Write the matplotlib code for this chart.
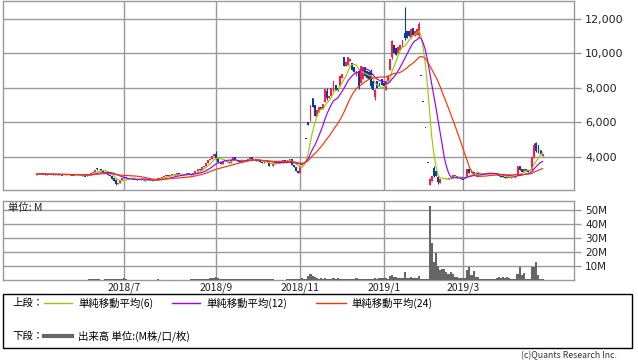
import numpy as np
import pandas as pd
import matplotlib
matplotlib.use("Agg")
import matplotlib.pyplot as plt
from matplotlib.patches import Rectangle
from matplotlib.lines import Line2D

plt.rcParams['font.family'] = ['Noto Sans CJK JP', 'DejaVu Sans']

# ---------------- data (daily) ----------------
JP_HOLIDAYS = ['2018-05-03', '2018-05-04', '2018-07-16', '2018-09-17', '2018-09-24',
               '2018-10-08', '2018-11-23', '2018-12-24', '2018-12-31', '2019-01-01',
               '2019-01-02', '2019-01-03', '2019-01-14', '2019-02-11', '2019-03-21']

OPEN = [2980, 3000, 3060, 3020, 3000, 2970, 3000, 3020, 2990, 2960,
        3000, 2990, 2960, 2940, 2970, 3010, 2990, 2960, 2930, 2950,
        2960, 3000, 2980, 2900, 2880, 2950, 3000, 3050, 3150, 3350,
        3320, 3280, 3200, 3150, 3050, 2950, 2900, 2800, 2650, 2450,
        2500, 2650, 2800, 2850, 2780, 2720, 2750, 2800, 2700, 2650,
        2680, 2720, 2650, 2580, 2620, 2580, 2650, 2700, 2720, 2750,
        2800, 2850, 2900, 2950, 2900, 2950, 3000, 2980, 3050, 3000,
        2950, 2980, 3000, 3050, 3000, 2980, 3100, 3200, 3300, 3250,
        3400, 3500, 3650, 3800, 3900, 4050, 4200, 3950, 3700, 3600,
        3750, 3800, 3700, 3650, 3800, 4000, 3850, 3750, 3700, 3800,
        3750, 3800, 3900, 4000, 3850, 3800, 3750, 3800, 3700, 3650,
        3750, 3700, 3500, 3450, 3600, 3700, 3750, 3700, 3750, 3800,
        3700, 3850, 3900, 3550, 3400, 3200, 3100, 3550, 4350, 5050,
        6050, 6100, 7400, 7000, 6400, 6600, 6900, 6800, 7200, 7850,
        7400, 7550, 7800, 8200, 8000, 8100, 8600, 9800, 9300, 9350,
        9550, 9450, 9200, 8700, 9000, 8300, 8500, 9200, 9000, 8900,
        9000, 8400, 7500, 8400, 8300, 8500, 8300, 7900, 8400, 9050,
        9800, 10500, 10300, 10000, 10200, 10400, 11200, 11300, 11300, 10900,
        11500, 11000, 11100, 11100, 8700, 7200, 5700, 3700, 2400, 2600,
        3350, 3200, 2850, 2500, 2750, 2700, 2750, 2780, 2750, 2850,
        2880, 2900, 2800, 2780, 2750, 2720, 2850, 3300, 3050, 3150,
        3000, 3050, 3000, 3050, 3000, 3050, 3000, 3050, 3000, 3050,
        3100, 2950, 2900, 2880, 2850, 2800, 2850, 2830, 2800, 2810,
        2950, 3500, 3300, 3150, 3300, 3250, 3200, 3250, 4000, 4800,
        4700, 4400, 4050]

CLOSE = [3000, 3050, 3020, 3000, 2980, 3000, 3010, 2990, 2970, 3000,
         2980, 2960, 2950, 2970, 3000, 2990, 2960, 2940, 2950, 2970,
         3000, 2980, 2900, 2880, 2950, 3000, 3050, 3150, 3250, 3300,
         3280, 3200, 3150, 3050, 2950, 2900, 2750, 2600, 2450, 2500,
         2650, 2800, 2850, 2780, 2720, 2750, 2800, 2700, 2650, 2680,
         2700, 2650, 2600, 2620, 2580, 2650, 2700, 2720, 2750, 2800,
         2850, 2900, 2950, 2900, 2950, 3000, 2980, 3050, 3000, 2950,
         2980, 3000, 3050, 3000, 2980, 3100, 3200, 3300, 3250, 3400,
         3500, 3650, 3800, 3900, 4050, 4200, 3950, 3700, 3600, 3750,
         3800, 3700, 3650, 3800, 4000, 3850, 3750, 3700, 3800, 3750,
         3800, 3900, 4000, 3850, 3800, 3750, 3800, 3700, 3650, 3750,
         3700, 3500, 3450, 3600, 3700, 3750, 3700, 3750, 3800, 3700,
         3850, 3900, 3550, 3400, 3200, 3100, 3500, 3650, 4350, 5050,
         5850, 7000, 6900, 6400, 6700, 6900, 6800, 7100, 7950, 7400,
         7550, 8000, 8400, 7900, 7850, 8700, 8800, 9300, 9500, 9800,
         9700, 9050, 8900, 9000, 8050, 9250, 9200, 8700, 8600, 8500,
         8100, 7900, 7900, 8000, 8100, 8200, 8100, 8400, 8700, 9700,
         10700, 10000, 9900, 10400, 10500, 10800, 10900, 10900, 11000, 11400,
         11100, 11300, 11400, 11700, 8700, 7200, 5700, 3700, 2750, 2880,
         2900, 2880, 2550, 2750, 2700, 2750, 2780, 2750, 2800, 2950,
         2950, 2800, 2780, 2750, 2720, 2730, 3300, 3100, 3200, 3000,
         3050, 3000, 3050, 3000, 3050, 3000, 3050, 3000, 3050, 3000,
         2950, 2900, 2850, 2850, 2800, 2850, 2830, 2800, 2810, 2850,
         3450, 3250, 3150, 3300, 3200, 3150, 3250, 4000, 4700, 4350,
         4250, 4150, 4150]

# days with visible shadows: index -> (high, low)
WICKS = {29: (3380, 3250), 38: (2700, 2380), 86: (4350, 3900), 139: (8000, 7300),
         154: (9100, 7950), 160: (9100, 8000), 162: (7950, 7300), 170: (10800, 9700),
         176: (12700, 10800), 183: (11850, 11000), 188: (2800, 2350), 190: (3450, 2850),
         192: (2900, 2450), 238: (4800, 3950), 239: (4850, 4300)}

VOLUME = [0.2, 0.2, 0.3, 0.2, 0.2, 0.3, 0.2, 0.2, 0.2, 0.3,
          0.2, 0.2, 0.2, 0.3, 0.2, 0.2, 0.2, 0.2, 0.3, 0.2,
          0.2, 0.3, 0.2, 0.2, 0.3, 0.4, 0.7, 0.8, 0.8, 0.7,
          0.4, 0.3, 0.3, 0.4, 0.8, 0.8, 0.9, 0.8, 0.9, 0.8,
          0.6, 0.4, 1.4, 0.5, 0.3, 0.2, 0.2, 0.3, 0.2, 0.2,
          0.2, 0.3, 0.2, 0.2, 0.3, 0.2, 0.2, 0.2, 0.7, 0.3,
          0.2, 0.2, 0.3, 0.2, 0.2, 0.2, 0.3, 0.2, 0.2, 0.2,
          0.3, 0.2, 0.2, 0.3, 0.4, 0.4, 0.5, 0.6, 0.8, 0.7,
          0.9, 0.8, 1.0, 1.2, 1.3, 1.5, 2.0, 1.4, 1.0, 0.7,
          0.8, 0.7, 0.8, 0.7, 0.8, 0.9, 0.7, 0.8, 0.7, 0.8,
          0.7, 0.8, 0.9, 0.7, 0.6, 0.8, 0.7, 0.6, 0.7, 0.7,
          0.6, 0.8, 0.7, 0.5, 0.3, 0.3, 0.3, 0.2, 0.3, 0.3,
          0.7, 0.7, 0.8, 0.7, 0.9, 0.6, 0.8, 1.2, 0.4, 0.5,
          3.2, 4.6, 2.7, 2.2, 1.2, 1.0, 1.7, 1.0, 1.2, 1.0,
          0.9, 1.0, 1.1, 0.9, 1.7, 1.0, 0.9, 1.0, 0.9, 1.0,
          1.0, 0.9, 1.0, 1.7, 1.0, 0.9, 1.0, 0.9, 1.0, 1.0,
          0.9, 1.0, 1.1, 1.0, 1.5, 1.5, 1.6, 1.5, 1.0, 3.2,
          3.9, 2.0, 2.0, 1.5, 1.5, 1.5, 5.4, 1.7, 1.7, 1.8,
          1.7, 1.7, 1.6, 3.2, 0.6, 0.5, 0.5, 0.6, 53.0, 26.5,
          13.0, 19.5, 10.0, 7.0, 7.5, 7.5, 6.0, 4.6, 5.6, 4.6,
          2.2, 2.2, 1.5, 1.5, 1.2, 1.2, 7.0, 9.3, 3.9, 6.3,
          2.2, 2.2, 1.0, 1.0, 1.0, 0.9, 1.0, 1.0, 0.9, 1.0,
          1.5, 2.0, 1.5, 2.2, 1.7, 2.0, 1.5, 1.0, 1.0, 1.0,
          4.6, 9.3, 3.9, 5.1, 1.0, 0.8, 1.0, 9.5, 9.5, 12.9,
          3.7, 1.0, 1.0]

MA_WINDOWS = [6, 12, 24]
MA_COLORS = ['#99cc00', '#9900ff', '#ff3300']
MA_LABELS = ['単純移動平均(6)', '単純移動平均(12)', '単純移動平均(24)']
PRICE_TICKS = [4000, 6000, 8000, 10000, 12000]
VOL_TICKS = [10, 20, 30, 40, 50]
MONTH_TICKS = [(2018, 7), (2018, 9), (2018, 11), (2019, 1), (2019, 3)]

UP = '#ff1a44'
DOWN = '#0a3c9c'
GRID = '#999999'

# ---------------- derived ----------------
dates = pd.bdate_range('2018-05-01', periods=len(CLOSE), freq='C', holidays=JP_HOLIDAYS)
x = np.arange(len(CLOSE))
o = np.array(OPEN, dtype=float)
c = np.array(CLOSE, dtype=float)
hi = np.maximum(o, c)
lo = np.minimum(o, c)
for k, (h, l) in WICKS.items():
    hi[k], lo[k] = h, l

s = pd.Series(c)
mas = [s.rolling(w, min_periods=1).mean() for w in MA_WINDOWS]

tick_pos = [int(np.argmax((dates.year == y) & (dates.month == m))) for y, m in MONTH_TICKS]
tick_lab = [f'{y}/{m}' for y, m in MONTH_TICKS]

# ---------------- figure ----------------
W, H = 638, 362
fig = plt.figure(figsize=(W / 100, H / 100), dpi=100)
ax1 = fig.add_axes([3 / W, (H - 190) / H, 571 / W, 189 / H])
ax2 = fig.add_axes([3 / W, (H - 280) / H, 571 / W, 79 / H])

for ax in (ax1, ax2):
    ax.set_xlim(-16, 257)
    ax.set_xticks(tick_pos)
    ax.grid(True, color=GRID, lw=1)
    ax.set_axisbelow(True)
    for sp in ax.spines.values():
        sp.set_color(GRID)
        sp.set_linewidth(1)
    ax.yaxis.tick_right()
    ax.tick_params(axis='y', colors=GRID, labelcolor='#222222', length=5, width=1, pad=3)
    ax.tick_params(axis='x', length=0)

# candles; days with open == close (limit moves) show as a short dash
body_h = np.abs(c - o)
flat = body_h < 40
bottom = np.where(flat, c - 25, np.minimum(o, c))
height = np.where(flat, 50, body_h)
up = c > o
ax1.vlines(x, lo, hi, colors=np.where(up, UP, DOWN), lw=0.8, zorder=2)
ax1.bar(x[up], height[up], bottom=bottom[up], width=0.9, color=UP, lw=0, zorder=3)
ax1.bar(x[~up], height[~up], bottom=bottom[~up], width=0.9, color=DOWN, lw=0, zorder=3)

for ma, col in zip(mas, MA_COLORS):
    ax1.plot(x, ma, color=col, lw=0.85, zorder=4)

ax1.set_ylim(2087, 13043)
ax1.set_yticks(PRICE_TICKS)
ax1.set_yticklabels([f'{v:,}' for v in PRICE_TICKS], fontsize=8, family='DejaVu Sans')
ax1.set_xticklabels([])

# volume
ax2.bar(x, VOLUME, width=1.0, color='#666666', lw=0, zorder=3)
ax2.set_ylim(0, 56.4)
ax2.set_yticks(VOL_TICKS)
ax2.set_yticklabels([f'{v}M' for v in VOL_TICKS], fontsize=7.5, family='DejaVu Sans')
ax2.set_xticklabels(tick_lab, fontsize=7.5, color='#222222')
ax2.tick_params(axis='x', pad=2)
ax2.text(0.008, 0.97, '単位: M', transform=ax2.transAxes, fontsize=7.5,
         va='top', ha='left', color='#222222')

# legend box
fig.add_artist(Rectangle((3 / W, (H - 348) / H), 629 / W, 54 / H, transform=fig.transFigure,
                         fill=False, edgecolor='#000000', lw=1))
row1 = (H - 303) / H
row2 = (H - 336) / H
fs = 7.5
fig.text(12 / W, row1, '上段：', fontsize=fs, va='center', ha='left')
seg = [(44, 72, 78), (172, 200, 206), (316, 346, 351)]
for (a, b, t), col, lab in zip(seg, MA_COLORS, MA_LABELS):
    fig.add_artist(Line2D([a / W, b / W], [row1, row1], transform=fig.transFigure, color=col, lw=1))
    fig.text(t / W, row1, lab, fontsize=fs, va='center', ha='left')
fig.text(12 / W, row2, '下段：', fontsize=fs, va='center', ha='left')
fig.add_artist(Line2D([44 / W, 72 / W], [row2, row2], transform=fig.transFigure, color='#666666', lw=3))
fig.text(78 / W, row2, '出来高 単位:(M株/口/枚)', fontsize=fs, va='center', ha='left')

fig.text(617 / W, (H - 356) / H, '(c)Quants Research Inc.', fontsize=6.3, va='center', ha='right',
         color='#333333')

fig.savefig('out.png', dpi=100)
